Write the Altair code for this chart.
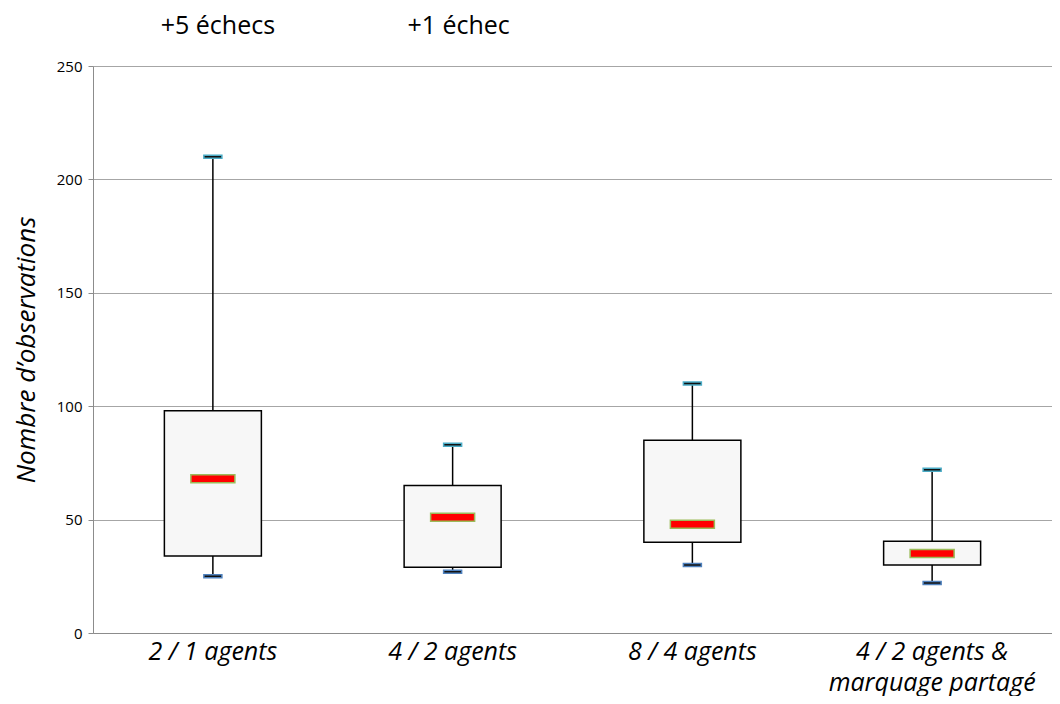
import altair as alt
import pandas as pd

categories = ["2 / 1 agents", "4 / 2 agents", "8 / 4 agents", "4 / 2 agents &|marquage partagé"]
whisker_low = [25, 27, 30, 22]
q1 = [34, 29, 40, 30]
median = [68, 51, 48, 35]
q3 = [98, 65, 85, 40.5]
whisker_high = [210, 83, 110, 72]
notes = ["+5 échecs", "+1 échec"]
note_cats = ["2 / 1 agents", "4 / 2 agents"]

df = pd.DataFrame({
    "cat": categories, "lo": whisker_low, "q1": q1, "med": median,
    "q3": q3, "hi": whisker_high,
})
notes_df = pd.DataFrame({"cat": note_cats, "note": notes})

FONT = "Open Sans"

x = alt.X("cat:N", sort=categories, title=None,
          scale=alt.Scale(domain=categories, paddingInner=0, paddingOuter=0),
          axis=alt.Axis(labelExpr="split(datum.value, '|')", labelAngle=0,
                        labelFont=FONT, labelFontSize=25, labelFontStyle="italic",
                        labelColor="#000", labelPadding=6, labelLineHeight=31,
                        labelLimit=0, ticks=False, domainColor="#8c8c8c",
                        domainWidth=1, grid=False))
yscale = alt.Scale(domain=[0, 250], nice=False)
yaxis = alt.Axis(values=[0, 50, 100, 150, 200, 250], title="Nombre d’observations",
                 titleFont=FONT, titleFontSize=26, titleFontStyle="italic",
                 titleFontWeight="normal", titleColor="#000", titlePadding=17,
                 labelFont=FONT, labelFontSize=15, labelColor="#000", labelPadding=6,
                 tickColor="#8c8c8c", tickSize=5, domainColor="#8c8c8c",
                 grid=True, gridColor="#a6a6a6", gridWidth=1)

base = alt.Chart(df).encode(x=x)

whisk = base.mark_rule(color="#000", strokeWidth=1.5).encode(
    y=alt.Y("lo:Q", scale=yscale, axis=yaxis), y2="hi:Q")
box = base.mark_bar(size=97, fill="#f7f7f7", stroke="#000", strokeWidth=1.5).encode(
    y="q1:Q", y2="q3:Q")
med = base.mark_tick(size=44, thickness=8, fill="#ff0000", stroke="#9bbb59",
                     strokeWidth=1.5, opacity=1, orient="horizontal").encode(y="med:Q")
cap_hi = base.mark_tick(size=18, thickness=3, fill="#111111", stroke="#4bacc6",
                        strokeWidth=1.5, opacity=1, orient="horizontal").encode(y="hi:Q")
cap_lo = base.mark_tick(size=18, thickness=3, fill="#111111", stroke="#4f81bd",
                        strokeWidth=1.5, opacity=1, orient="horizontal").encode(y="lo:Q")

ann1 = alt.Chart(notes_df).transform_filter(alt.datum.cat == note_cats[0]).mark_text(
    font=FONT, fontSize=25, color="#000", baseline="alphabetic", align="center", dx=5
).encode(x=alt.X("cat:N", sort=categories), y=alt.value(-32), text="note:N")
ann2 = alt.Chart(notes_df).transform_filter(alt.datum.cat == note_cats[1]).mark_text(
    font=FONT, fontSize=25, color="#000", baseline="alphabetic", align="center", dx=6
).encode(x=alt.X("cat:N", sort=categories), y=alt.value(-32), text="note:N")

chart = alt.layer(whisk, box, med, cap_hi, cap_lo, ann1, ann2).properties(
    width=959, height=567,
    autosize=alt.AutoSizeParams(type="none"),
    padding={"left": 85, "top": 58, "right": 0, "bottom": 63},
).configure_view(stroke=None).configure(background="white")

chart.save("out.html", embed_options={"renderer": "svg", "actions": False})
